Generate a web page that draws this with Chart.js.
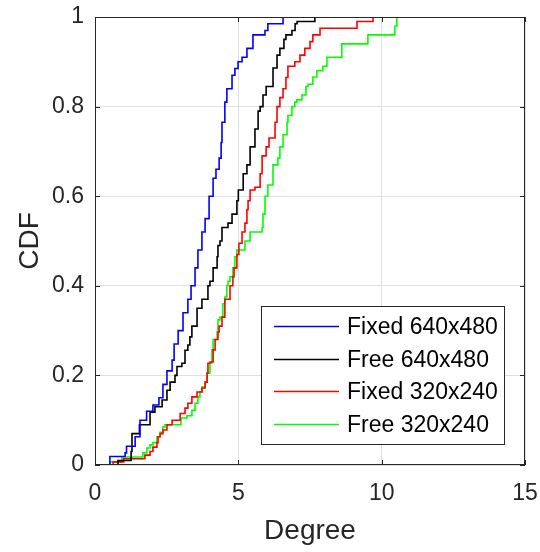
<!DOCTYPE html>
<html>
<head>
<meta charset="utf-8">
<script src="https://cdn.jsdelivr.net/npm/chart.js@4.4.0/dist/chart.umd.min.js"></script>
<style>
html,body{margin:0;padding:0;background:#fff}
#wrap{width:540px;height:552px}
</style>
</head>
<body>
<div id="wrap"><canvas id="c"></canvas></div>
<script>
// series names and colours
const labels=["Fixed 640x480","Free 640x480","Fixed 320x240","Free 320x240"]
const colors=["#0000ff","#000000","#ff0000","#00ff00"]

const fixed640Deg=[0.52,0.52,1.05,1.1,1.4,1.57,1.8,2.02,2.23,2.37,2.51,2.69,2.76,2.9,3.07,3.24,3.35,3.49,3.59,3.73,3.84,3.98,4.12,4.22,4.33,4.40,4.43,4.53,4.60,4.78,4.88,4.99,5.13,5.30,5.51,5.93,6.03,6.56]
const fixed640Cdf=[0,0.019,0.027,0.042,0.063,0.10,0.12,0.134,0.15,0.18,0.21,0.234,0.27,0.30,0.34,0.37,0.40,0.44,0.48,0.52,0.55,0.60,0.64,0.66,0.685,0.72,0.765,0.81,0.84,0.87,0.885,0.90,0.91,0.93,0.96,0.97,0.985,1.0]

const free640Deg=[0.80,0.80,1.26,1.29,1.55,1.92,2.09,2.34,2.51,2.62,2.79,2.86,3.03,3.14,3.24,3.31,3.38,3.56,3.73,3.94,4.01,4.12,4.26,4.29,4.36,4.43,4.64,4.78,4.95,5.0,5.17,5.30,5.41,5.58,5.69,5.76,5.86,5.97,6.21,6.35,6.45,6.59,6.66,6.87,6.98,7.05,7.67]
const free640Cdf=[0,0.01,0.03,0.07,0.09,0.118,0.13,0.145,0.167,0.185,0.20,0.22,0.227,0.256,0.268,0.286,0.31,0.35,0.37,0.40,0.41,0.44,0.465,0.49,0.50,0.53,0.54,0.56,0.59,0.614,0.65,0.67,0.71,0.75,0.79,0.80,0.826,0.845,0.886,0.915,0.93,0.95,0.96,0.97,0.985,0.99,1.0]

const fixed320Deg=[0.63,0.63,1.0,1.74,1.92,2.02,2.16,2.2,2.27,2.37,2.51,2.69,2.97,3.14,3.24,3.38,3.56,3.73,3.84,3.91,3.94,4.01,4.12,4.19,4.29,4.33,4.43,4.53,4.71,4.81,4.85,4.95,5.02,5.13,5.23,5.30,5.34,5.41,5.58,5.76,5.83,5.97,6.07,6.28,6.35,6.45,6.56,6.66,6.73,6.97,7.15,7.32,7.5,7.6,7.85,9.14,9.7]
const fixed320Cdf=[0,0.007,0.014,0.022,0.03,0.04,0.05,0.063,0.07,0.078,0.09,0.10,0.115,0.127,0.138,0.152,0.163,0.172,0.185,0.205,0.227,0.23,0.257,0.28,0.297,0.31,0.33,0.37,0.40,0.42,0.44,0.47,0.495,0.52,0.54,0.57,0.59,0.614,0.62,0.65,0.69,0.71,0.73,0.765,0.80,0.82,0.84,0.865,0.89,0.90,0.915,0.93,0.945,0.96,0.975,0.99,1.0]

const free320Deg=[0.52,0.52,0.94,1.67,1.81,1.92,2.02,2.16,2.27,2.37,2.44,3.0,3.21,3.38,3.49,3.59,3.66,3.73,3.84,3.91,4.01,4.08,4.12,4.26,4.29,4.36,4.46,4.53,4.6,4.64,4.71,4.81,4.88,4.95,5.23,5.41,5.83,5.86,5.93,6.03,6.21,6.38,6.45,6.56,6.70,6.73,6.87,6.97,7.04,7.22,7.36,7.43,7.6,7.74,7.95,8.09,8.61,9.52,10.46,10.53]
const free320Cdf=[0,0.007,0.018,0.027,0.038,0.045,0.05,0.063,0.073,0.085,0.09,0.105,0.11,0.122,0.138,0.152,0.163,0.174,0.185,0.205,0.228,0.257,0.28,0.297,0.324,0.33,0.36,0.375,0.40,0.41,0.42,0.44,0.465,0.48,0.50,0.52,0.53,0.56,0.60,0.625,0.67,0.685,0.71,0.737,0.765,0.78,0.80,0.81,0.815,0.826,0.845,0.85,0.866,0.88,0.89,0.91,0.94,0.96,0.98,1.0]

const xTicks=[0,5,10,15]
const yTicks=[0,0.2,0.4,0.6,0.8,1]

const ink="#262626"
const font="'Liberation Sans', Arial, Helvetica, sans-serif"

const series=[[fixed640Deg,fixed640Cdf],[free640Deg,free640Cdf],[fixed320Deg,fixed320Cdf],[free320Deg,free320Cdf]]
const datasets=series.map(([xs,ys],i)=>({
label:labels[i],
data:xs.map((x,j)=>({x:x,y:ys[j]})),
borderColor:colors[i],
borderWidth:1.6,
pointRadius:0,
showLine:true,
stepped:"before",
fill:false
}))

// matlab style box with inward ticks, plus legend inside the axes
const frame={id:"frame",afterDatasetsDraw(ch){
const {ctx,chartArea:a,scales:{x,y}}=ch
ctx.save()
ctx.strokeStyle=ink
ctx.lineWidth=1
ctx.strokeRect(a.left+0.5,a.top+0.5,a.right-a.left-1,a.bottom-a.top-1)
const L=5
ctx.beginPath()
xTicks.forEach(v=>{
const p=Math.round(x.getPixelForValue(v))+0.5
ctx.moveTo(p,a.bottom);ctx.lineTo(p,a.bottom-L)
ctx.moveTo(p,a.top);ctx.lineTo(p,a.top+L)
})
yTicks.forEach(v=>{
const p=Math.round(y.getPixelForValue(v))+0.5
ctx.moveTo(a.left,p);ctx.lineTo(a.left+L,p)
ctx.moveTo(a.right,p);ctx.lineTo(a.right-L,p)
})
ctx.stroke()

const bw=243,bh=138
const bx=a.right-21-bw,by=a.bottom-21-bh
ctx.fillStyle="#fff"
ctx.fillRect(bx,by,bw,bh)
ctx.strokeRect(bx+0.5,by+0.5,bw,bh)
ctx.font="23px "+font
ctx.textBaseline="middle"
ctx.textAlign="left"
ch.data.datasets.forEach((d,i)=>{
const ry=Math.round(by+20+i*32.7)+0.5
ctx.strokeStyle=d.borderColor
ctx.lineWidth=1.5
ctx.beginPath();ctx.moveTo(bx+13,ry);ctx.lineTo(bx+78,ry);ctx.stroke()
ctx.fillStyle="#000"
ctx.fillText(d.label,bx+86,ry+1)
})
ctx.restore()
}}

new Chart(document.getElementById("c"),{
type:"scatter",
data:{datasets:datasets},
options:{
responsive:true,
maintainAspectRatio:false,
animation:false,
layout:{padding:{top:17,right:15,left:0,bottom:0}},
plugins:{legend:{display:false},tooltip:{enabled:false}},
scales:{
x:{
type:"linear",min:0,max:15,
afterBuildTicks:s=>{s.ticks=xTicks.map(v=>({value:v}))},
afterFit:s=>{s.height=87;s.paddingLeft=0;s.paddingRight=0},
grid:{color:"#dfdfdf",drawTicks:false},
border:{display:false},
ticks:{color:ink,padding:15,font:{family:font,size:23},callback:v=>String(v)},
title:{display:true,text:"Degree",color:ink,font:{family:font,size:28},padding:{top:0,bottom:4}}
},
y:{
type:"linear",min:0,max:1,
afterBuildTicks:s=>{s.ticks=yTicks.map(v=>({value:v}))},
afterFit:s=>{s.width=95;s.paddingTop=0;s.paddingBottom=0},
grid:{color:"#dfdfdf",drawTicks:false},
border:{display:false},
ticks:{color:ink,padding:11,font:{family:font,size:23},callback:v=>String(+(+v).toFixed(1))},
title:{display:true,text:"CDF",color:ink,font:{family:font,size:28},padding:{top:13,bottom:0}}
}
}
},
plugins:[frame]
})
</script>
</body>
</html>
